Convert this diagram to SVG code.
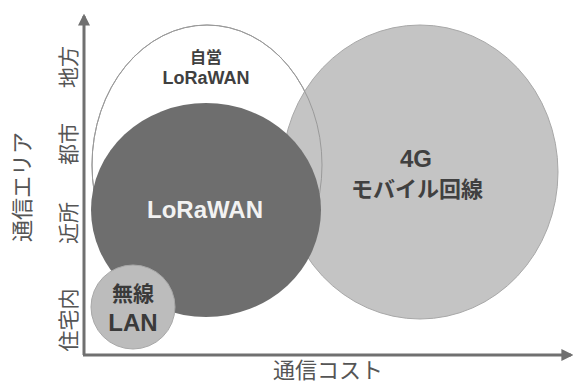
<svg xmlns="http://www.w3.org/2000/svg" width="574" height="385" viewBox="0 0 574 385">
<style>
text{font-family:"Noto Sans CJK JP","Noto Sans",sans-serif;text-anchor:middle;dominant-baseline:central}
.lat{font-family:"Liberation Sans","Noto Sans CJK JP",sans-serif}
.lbl{font-size:21px;fill:#555}
.b{font-weight:bold}
</style>
<defs>
<marker id="ah" viewBox="0 0 10 10" refX="8" refY="5" markerWidth="4" markerHeight="4" orient="auto">
<path d="M0,0L10,5L0,10z" fill="#707070"/>
</marker>
</defs>
<rect width="574" height="385" fill="#fff"/>
<g id="self-lorawan">
<ellipse cx="207" cy="165" rx="115" ry="140" fill="#fff" stroke="#9a9a9a" stroke-width="1"/>
</g>
<g id="mobile-4g">
<ellipse cx="420" cy="172" rx="138" ry="147" fill="#c4c4c4" stroke="#a8a8a8" stroke-width="1"/>
<ellipse cx="207" cy="165" rx="115" ry="140" fill="none" stroke="#9a9a9a" stroke-width="1"/>
<text x="416" y="158" class="b lat" font-size="24" fill="#404040">4G</text>
<text x="417" y="187" class="b" font-size="22" fill="#404040">モバイル回線</text>
</g>
<g id="self-lorawan-label">
<text x="206" y="56" class="b" font-size="16" fill="#404040">自営</text>
<text x="206" y="78" class="b lat" font-size="18" fill="#404040">LoRaWAN</text>
</g>
<g id="lorawan">
<ellipse cx="206" cy="210" rx="115" ry="107" fill="#6e6e6e"/>
<text x="205" y="209" class="b lat" font-size="24" fill="#f2f2f2">LoRaWAN</text>
</g>
<g id="wireless-lan">
<circle cx="133" cy="307" r="42" fill="#bcbcbc" stroke="#a8a8a8" stroke-width="1"/>
<text x="133" y="292" class="b" font-size="21" fill="#3a3a3a">無線</text>
<text x="133" y="322" class="b lat" font-size="24" fill="#3a3a3a">LAN</text>
</g>
<g id="axes">
<path d="M84,355V16" stroke="#707070" stroke-width="3" fill="none" marker-end="url(#ah)"/>
<path d="M83,355H571" stroke="#707070" stroke-width="3" fill="none" marker-end="url(#ah)"/>
</g>
<g id="axis-labels">
<text transform="translate(67,67) rotate(-90)" class="lbl">地方</text>
<text transform="translate(67,144) rotate(-90)" class="lbl">都市</text>
<text transform="translate(67,223) rotate(-90)" class="lbl">近所</text>
<text transform="translate(67,320) rotate(-90)" class="lbl">住宅内</text>
<text transform="translate(20,187) rotate(-90)" font-size="22" fill="#555">通信エリア</text>
<text x="328" y="368" font-size="22" fill="#555">通信コスト</text>
</g>
</svg>
